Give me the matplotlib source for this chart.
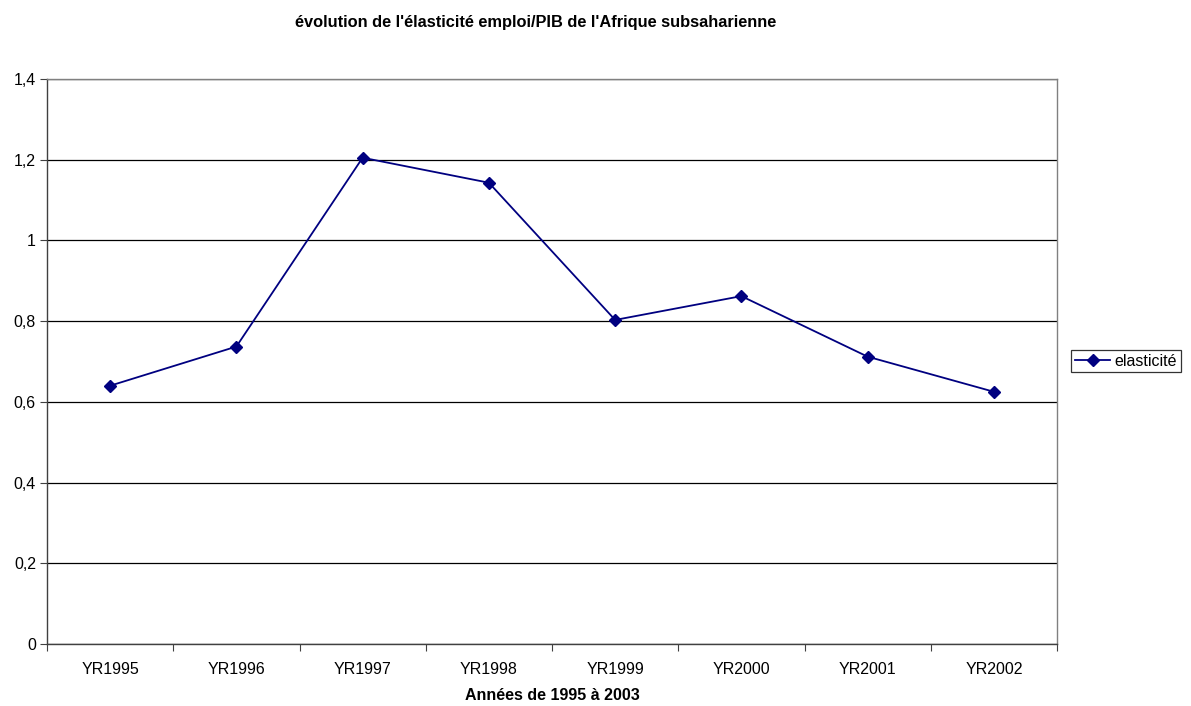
import matplotlib.pyplot as plt
import numpy as np

plt.rcParams['font.family'] = ['Liberation Sans', 'DejaVu Sans']

annees = ['YR1995', 'YR1996', 'YR1997', 'YR1998', 'YR1999', 'YR2000', 'YR2001', 'YR2002']
elasticite = [0.640, 0.737, 1.205, 1.143, 0.803, 0.862, 0.712, 0.625]
y_ticks = [0, 0.2, 0.4, 0.6, 0.8, 1.0, 1.2, 1.4]
y_labels = ['0', '0,2', '0,4', '0,6', '0,8', '1', '1,2', '1,4']

fig = plt.figure(figsize=(11.91, 7.06), dpi=100)
W, H = 1191, 706
ax = fig.add_axes([47 / W, 1 - 644 / H, 1010 / W, (644 - 79) / H])

x = np.arange(len(annees))
ax.plot(x, elasticite, color='#000080', lw=1.3, marker='D', ms=6,
        label='elasticité', zorder=3)

ax.set_xlim(-0.5, len(annees) - 0.5)
ax.set_ylim(0, 1.4)
ax.set_yticks(y_ticks)
ax.set_yticklabels(y_labels, fontsize=11.5)
ax.yaxis.grid(True, color='black', lw=0.9)
ax.set_axisbelow(True)

# category boundaries as ticks, labels centered
ax.set_xticks(np.arange(len(annees) + 1) - 0.5)
ax.set_xticklabels([])
ax.set_xticks(x, minor=True)
ax.set_xticklabels(annees, minor=True, fontsize=11.5)
ax.tick_params(axis='x', which='minor', length=0, pad=13)
ax.tick_params(axis='x', which='major', length=5, color='#404040')
ax.tick_params(axis='y', length=5, color='#404040', pad=3)

for side in ['left', 'bottom']:
    ax.spines[side].set_color('#404040')
for side in ['right', 'top']:
    ax.spines[side].set_color('#808080')
for s in ax.spines.values():
    s.set_linewidth(1)

ax.set_xlabel('Années de 1995 à 2003', fontsize=11.5, fontweight='bold', labelpad=8)
fig.text(536 / W, 1 - 23 / H,
         "évolution de l'élasticité emploi/PIB de l'Afrique subsaharienne",
         fontsize=11.8, fontweight='bold', ha='center', va='center')

leg = ax.legend(loc='center left', bbox_to_anchor=(1071 / W, 1 - 361 / H),
                bbox_transform=fig.transFigure, fontsize=11.5, frameon=True,
                fancybox=False, edgecolor='black', handlelength=2.2,
                borderpad=0.25, handletextpad=0.25, borderaxespad=0)
leg.get_frame().set_linewidth(0.9)

fig.savefig('out.png', dpi=100)
